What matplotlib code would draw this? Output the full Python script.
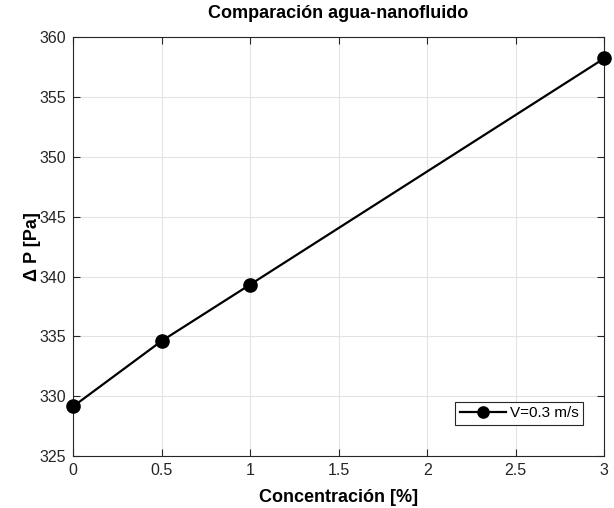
import numpy as np
import matplotlib.pyplot as plt

plt.rcParams['font.family'] = ['Liberation Sans', 'DejaVu Sans']

concentracion = [0, 0.5, 1, 3]
delta_p = [329.15, 334.62, 339.33, 358.22]
etiqueta = 'V=0.3 m/s'

fig = plt.figure(figsize=(6.14, 5.08), dpi=100)
ax = fig.add_axes([0.119, 0.102, 0.865, 0.825])

ax.plot(concentracion, delta_p, '-o', color='black', lw=1.6, ms=9.5,
        label=etiqueta, zorder=3, clip_on=False)

ax.set_xlim(0, 3)
ax.set_ylim(325, 360)
ax.set_xticks(np.arange(0, 3.01, 0.5))
ax.set_xticklabels(['0', '0.5', '1', '1.5', '2', '2.5', '3'])
ax.set_yticks(np.arange(325, 361, 5))

ax.grid(True, color='#e3e3e3', lw=0.8)
ax.set_axisbelow(True)
ax.tick_params(direction='in', top=True, right=True, length=5, width=0.8,
               labelsize=11.5, colors='#262626', pad=5)
for s in ax.spines.values():
    s.set_color('#262626')
    s.set_linewidth(0.8)

ax.set_title('Comparación agua-nanofluido', fontsize=13, fontweight='bold', pad=14)
ax.set_xlabel('Concentración [%]', fontsize=13, fontweight='bold', labelpad=8)
ax.set_ylabel('Δ P [Pa]', fontsize=13, fontweight='bold', labelpad=-1)

leg = ax.legend(loc='lower right', bbox_to_anchor=(0.96, 0.075), fontsize=11,
                fancybox=False, framealpha=1, edgecolor='#262626',
                handlelength=3.0, borderpad=0.3, handletextpad=0.25,
                borderaxespad=0, markerscale=0.85)
leg.get_frame().set_linewidth(0.8)

fig.savefig('out.png', dpi=100)
